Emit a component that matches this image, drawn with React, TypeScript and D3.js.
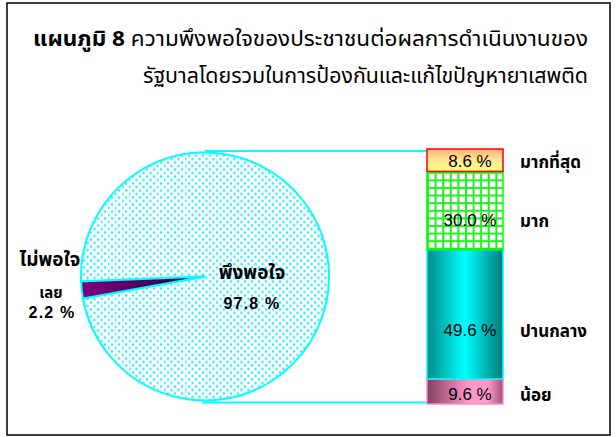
import React from "react";
import * as d3 from "d3";

const pieCategories = ["พึงพอใจ", "ไม่พอใจเลย"];
const pieLabelLines = [["พึงพอใจ"], ["ไม่พอใจ", "เลย"]];
const pieValues = [97.8, 2.2];
const pieLabels = ["97.8 %", "2.2 %"];

const barCategories = ["มากที่สุด", "มาก", "ปานกลาง", "น้อย"];
const barValues = [8.6, 30.0, 49.6, 9.6];
const barLabels = ["8.6 %", "30.0 %", "49.6 %", "9.6 %"];

const titleBold = "แผนภูมิ 8";
const titleLine1 = " ความพึงพอใจของประชาชนต่อผลการดำเนินงานของ";
const titleLine2 = "รัฐบาลโดยรวมในการป้องกันและแก้ไขปัญหายาเสพติด";

// layout
const W = 616;
const H = 437;
const cx = 205;
const cy = 276.5;
const R = 124;
const barX0 = 427;
const barX1 = 503;
const barTop = 149;
const barBottom = 404;
const labelDy = [1, 9, 16, 3];
const thaiFont = "Tahoma, 'Noto Sans Thai', 'Noto Sans', sans-serif";
const numFont = "'Liberation Sans', Arial, sans-serif";

export default function App() {
  const pie = d3
    .pie<number>()
    .sort(null)
    .startAngle(((267.7 - 360) * Math.PI) / 180)
    .endAngle((267.7 * Math.PI) / 180)(pieValues);
  const arc = d3.arc<d3.PieArcDatum<number>>().innerRadius(0).outerRadius(R);

  const total = d3.sum(barValues);
  const y = d3.scaleLinear().domain([0, total]).range([barBottom, barTop]);
  const segs: { cat: string; label: string; v0: number; v1: number; i: number }[] = [];
  let acc = 0;
  for (let i = barValues.length - 1; i >= 0; i--) {
    segs.push({ cat: barCategories[i], label: barLabels[i], v0: acc, v1: acc + barValues[i], i });
    acc += barValues[i];
  }
  const fills = ["url(#gTop)", "url(#pGrid)", "url(#gTeal)", "url(#gPink)"];
  const strokes = ["#ff0000", "#00ff00", "#00ffff", "#ff88cc"];

  return (
    <svg width={W} height={H} style={{ position: "absolute", left: 0, top: 0 }} fontFamily={thaiFont}>
      <defs>
        <pattern id="pDots" width="7" height="7" patternUnits="userSpaceOnUse">
          <rect width="7" height="7" fill="#ffffff" />
          <circle cx="1.5" cy="1.5" r="1.3" fill="#22eeff" />
          <circle cx="5" cy="5" r="1.3" fill="#22eeff" />
        </pattern>
        <pattern id="pGrid" width="7.6" height="7.6" patternUnits="userSpaceOnUse" x={barX0} y={barTop}>
          <rect width="7.6" height="7.6" fill="#ffffff" />
          <rect x="0" y="0" width="7.6" height="2" fill="#22ee22" />
          <rect x="0" y="0" width="2" height="7.6" fill="#22ee22" />
        </pattern>
        <linearGradient id="gTop" x1="0" x2="0" y1="0" y2="1">
          <stop offset="0" stopColor="#ffb080" />
          <stop offset="0.5" stopColor="#ffe890" />
          <stop offset="1" stopColor="#ffff80" />
        </linearGradient>
        <linearGradient id="gTeal" x1="0" x2="1" y1="0" y2="0">
          <stop offset="0" stopColor="#008a8a" />
          <stop offset="0.5" stopColor="#00ffff" />
          <stop offset="1" stopColor="#007a7a" />
        </linearGradient>
        <linearGradient id="gPink" x1="0" x2="1" y1="0" y2="0">
          <stop offset="0" stopColor="#804060" />
          <stop offset="0.55" stopColor="#ff99cc" />
          <stop offset="0.8" stopColor="#ff99cc" />
          <stop offset="1" stopColor="#a05075" />
        </linearGradient>
        <linearGradient id="gPurple" x1="0" x2="1" y1="0" y2="0">
          <stop offset="0" stopColor="#800080" />
          <stop offset="1" stopColor="#200040" />
        </linearGradient>
      </defs>

      <rect x={7} y={3} width={603} height={432} fill="#ffffff" stroke="#000000" strokeWidth={1.5} />

      {/* title */}
      <text x={33} y={46} fontSize={22} fill="#000" textLength={555} lengthAdjust="spacingAndGlyphs">
        <tspan fontWeight="bold">{titleBold}</tspan>
        <tspan>{titleLine1}</tspan>
      </text>
      <text x={143} y={83} fontSize={22} fill="#000" textLength={445} lengthAdjust="spacingAndGlyphs">
        {titleLine2}
      </text>

      {/* connecting lines */}
      <line x1={cx} y1={y(total) + 2} x2={barX0} y2={y(total) + 2} stroke="#00ffff" strokeWidth={2} />
      <line x1={cx - 3} y1={y(0) - 1.5} x2={barX0} y2={y(0) - 1.5} stroke="#00ffff" strokeWidth={2} />

      {/* pie */}
      <g transform={`translate(${cx},${cy})`}>
        {pie.map((d, i) => (
          <path
            key={pieCategories[i]}
            d={arc(d) || ""}
            fill={i === 0 ? "url(#pDots)" : "url(#gPurple)"}
            stroke="#00ffff"
            strokeWidth={2}
          />
        ))}
      </g>

      {/* pie labels */}
      <text x={252} y={279} fontSize={19} fontWeight="bold" textAnchor="middle" fill="#000">
        {pieLabelLines[0][0]}
      </text>
      <text x={252} y={309} fontSize={16} fontWeight="bold" textAnchor="middle" fill="#000" fontFamily={numFont} letterSpacing={1.2}>
        {pieLabels[0]}
      </text>
      <text x={50} y={266} fontSize={19} fontWeight="bold" textAnchor="middle" fill="#000">
        {pieLabelLines[1][0]}
      </text>
      <text x={51} y={298} fontSize={15} fontWeight="bold" textAnchor="middle" fill="#000">
        {pieLabelLines[1][1]}
      </text>
      <text x={52} y={318} fontSize={16} fontWeight="bold" textAnchor="middle" fill="#000" fontFamily={numFont} letterSpacing={1.2}>
        {pieLabels[1]}
      </text>

      {/* bar */}
      {segs.map((s) => (
        <g key={s.cat}>
          <rect
            x={barX0}
            y={y(s.v1)}
            width={barX1 - barX0}
            height={y(s.v0) - y(s.v1)}
            fill={fills[s.i]}
            stroke={strokes[s.i]}
            strokeWidth={1.5}
          />
          <text
            x={470}
            y={(y(s.v0) + y(s.v1)) / 2 + labelDy[s.i] + 6}
            fontSize={17}
            textAnchor="middle"
            fill="#000"
            fontFamily={numFont}
          >
            {s.label}
          </text>
          <text
            x={520}
            y={(y(s.v0) + y(s.v1)) / 2 + labelDy[s.i] + 7}
            fontSize={17}
            fontWeight="bold"
            fill="#000"
          >
            {s.cat}
          </text>
        </g>
      ))}
    </svg>
  );
}
